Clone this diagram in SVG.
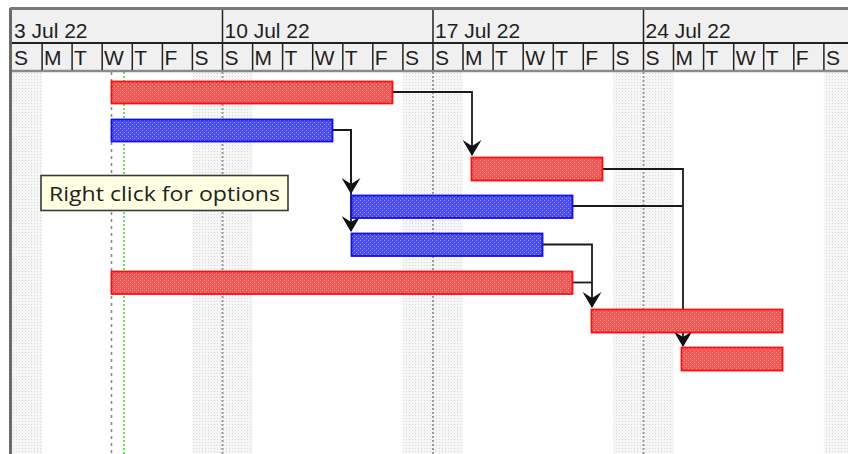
<svg xmlns="http://www.w3.org/2000/svg" width="848" height="454" viewBox="0 0 848 454">
<defs>
<pattern id="wkPat" width="3" height="3" patternUnits="userSpaceOnUse">
<rect width="3" height="3" fill="#f6f6f6"/>
<rect x="1" y="1" width="1" height="1" fill="#d8d8d8"/>
</pattern>
<pattern id="redPat" width="4" height="4" patternUnits="userSpaceOnUse">
<rect width="4" height="4" fill="#ff5252"/>
<rect x="0" y="0" width="1" height="1" fill="#ffa0a0"/>
<rect x="2" y="2" width="1" height="1" fill="#ffa0a0"/>
</pattern>
<pattern id="bluePat" width="4" height="4" patternUnits="userSpaceOnUse">
<rect width="4" height="4" fill="#4a4aff"/>
<rect x="0" y="0" width="1" height="1" fill="#9a9aff"/>
<rect x="2" y="2" width="1" height="1" fill="#9a9aff"/>
</pattern>
<marker id="arr" viewBox="0 0 16 19" refX="15" refY="9.5" markerWidth="16" markerHeight="19" markerUnits="userSpaceOnUse" orient="auto">
<path d="M0,0 L16,9.5 L0,19 L6,9.5 Z" fill="#111"/>
</marker>
</defs>
<style>
.hdr{font-family:"Liberation Sans",Arial,sans-serif;font-size:21px;fill:#1e1e1e}
.red{fill:url(#redPat);stroke:#ff0d0d;stroke-width:1.8}
.blue{fill:url(#bluePat);stroke:#0d0dff;stroke-width:1.8}
.con{fill:none;stroke:#1a1a1a;stroke-width:1.8}
.wkend{fill:url(#wkPat)}
.wline{stroke:#9a9a9a;stroke-width:2;stroke-dasharray:2 2}
.dsep{stroke:#222;stroke-width:1.5}
.tip{font-family:"Open Sans","Liberation Sans",sans-serif;font-size:20px;fill:#222}
</style>
<rect width="848" height="454" fill="#ffffff"/>
<g id="grid">
<rect class="wkend" x="12" y="72" width="30" height="382"/>
<rect class="wkend" x="192.4" y="72" width="60.2" height="382"/>
<rect class="wkend" x="402.9" y="72" width="60.1" height="382"/>
<rect class="wkend" x="613.4" y="72" width="60.1" height="382"/>
<rect class="wkend" x="823.9" y="72" width="24.1" height="382"/>
<line class="wline" x1="222.5" y1="72" x2="222.5" y2="454"/>
<line class="wline" x1="433" y1="72" x2="433" y2="454"/>
<line class="wline" x1="643.5" y1="72" x2="643.5" y2="454"/>
<line x1="111.5" y1="72" x2="111.5" y2="454" stroke="#8a8a8a" stroke-width="1.6" stroke-dasharray="3 4"/>
<line x1="124" y1="72" x2="124" y2="454" stroke="#33dd33" stroke-width="1.5" stroke-dasharray="2 2"/>
<line x1="10.5" y1="8" x2="10.5" y2="454" stroke="#6a6a6a" stroke-width="3"/>
</g>
<g id="connectors">
<path class="con" d="M392,92 H472 V155" marker-end="url(#arr)"/>
<path class="con" d="M332,130 H351 V193" marker-end="url(#arr)"/>
<path class="con" d="M332,130 H351 V231" marker-end="url(#arr)"/>
<path class="con" d="M603,169 H683 V346" marker-end="url(#arr)"/>
<path class="con" d="M573,206 H683"/>
<path class="con" d="M543,244.5 H592 V307" marker-end="url(#arr)"/>
<path class="con" d="M573,282.5 H592"/>
</g>
<g id="task1"><rect class="red" x="111.5" y="81.5" width="281" height="22"/></g>
<g id="task2"><rect class="blue" x="111.5" y="119.5" width="221" height="22"/></g>
<g id="task3"><rect class="red" x="471.5" y="157.5" width="131" height="23"/></g>
<g id="task4"><rect class="blue" x="351.5" y="195.5" width="221" height="22.5"/></g>
<g id="task5"><rect class="blue" x="351.5" y="233.5" width="191" height="22.5"/></g>
<g id="task6"><rect class="red" x="111.5" y="271.5" width="461" height="22.5"/></g>
<g id="task7"><rect class="red" x="591.5" y="309.5" width="191" height="23"/></g>
<g id="task8"><rect class="red" x="681.5" y="347.5" width="101" height="23"/></g>
<g id="tooltip">
<rect x="41" y="175.5" width="247" height="35" fill="#ffffe1" stroke="#3a3a3a" stroke-width="1.6"/>
<text class="tip" x="49" y="201" textLength="231" lengthAdjust="spacingAndGlyphs">Right click for options</text>
</g>
<g id="header">
<rect x="12" y="9" width="836" height="62" fill="#f0f0f0"/>
<line x1="10" y1="8.5" x2="848" y2="8.5" stroke="#7a7a7a" stroke-width="3"/>
<line x1="12" y1="43" x2="848" y2="43" stroke="#222" stroke-width="2"/>
<line x1="12" y1="71" x2="848" y2="71" stroke="#8a8a8a" stroke-width="2.5"/>
<line class="dsep" x1="222.5" y1="10" x2="222.5" y2="70"/>
<line class="dsep" x1="433" y1="10" x2="433" y2="70"/>
<line class="dsep" x1="643.5" y1="10" x2="643.5" y2="70"/>
<g class="dsep">
<line x1="42.1" y1="44" x2="42.1" y2="70"/><line x1="72.1" y1="44" x2="72.1" y2="70"/><line x1="102.2" y1="44" x2="102.2" y2="70"/><line x1="132.3" y1="44" x2="132.3" y2="70"/><line x1="162.4" y1="44" x2="162.4" y2="70"/><line x1="192.4" y1="44" x2="192.4" y2="70"/>
<line x1="252.6" y1="44" x2="252.6" y2="70"/><line x1="282.6" y1="44" x2="282.6" y2="70"/><line x1="312.7" y1="44" x2="312.7" y2="70"/><line x1="342.8" y1="44" x2="342.8" y2="70"/><line x1="372.8" y1="44" x2="372.8" y2="70"/><line x1="402.9" y1="44" x2="402.9" y2="70"/>
<line x1="463" y1="44" x2="463" y2="70"/><line x1="493.1" y1="44" x2="493.1" y2="70"/><line x1="523.2" y1="44" x2="523.2" y2="70"/><line x1="553.3" y1="44" x2="553.3" y2="70"/><line x1="583.3" y1="44" x2="583.3" y2="70"/><line x1="613.4" y1="44" x2="613.4" y2="70"/>
<line x1="673.5" y1="44" x2="673.5" y2="70"/><line x1="703.6" y1="44" x2="703.6" y2="70"/><line x1="733.7" y1="44" x2="733.7" y2="70"/><line x1="763.7" y1="44" x2="763.7" y2="70"/><line x1="793.8" y1="44" x2="793.8" y2="70"/><line x1="823.9" y1="44" x2="823.9" y2="70"/>
</g>
<text class="hdr" x="14" y="38">3 Jul 22</text>
<text class="hdr" x="224.5" y="38">10 Jul 22</text>
<text class="hdr" x="435" y="38">17 Jul 22</text>
<text class="hdr" x="645.5" y="38">24 Jul 22</text>
<g class="hdr">
<text x="14" y="65">S</text><text x="44" y="65">M</text><text x="74" y="65">T</text><text x="104" y="65">W</text><text x="134.3" y="65">T</text><text x="164.4" y="65">F</text><text x="194.4" y="65">S</text>
<text x="224.5" y="65">S</text><text x="254.6" y="65">M</text><text x="284.6" y="65">T</text><text x="314.7" y="65">W</text><text x="344.8" y="65">T</text><text x="374.8" y="65">F</text><text x="404.9" y="65">S</text>
<text x="435" y="65">S</text><text x="465" y="65">M</text><text x="495.1" y="65">T</text><text x="525.2" y="65">W</text><text x="555.3" y="65">T</text><text x="585.3" y="65">F</text><text x="615.4" y="65">S</text>
<text x="645.5" y="65">S</text><text x="675.5" y="65">M</text><text x="705.6" y="65">T</text><text x="735.7" y="65">W</text><text x="765.7" y="65">T</text><text x="795.8" y="65">F</text><text x="825.9" y="65">S</text>
</g>
</g>
</svg>
